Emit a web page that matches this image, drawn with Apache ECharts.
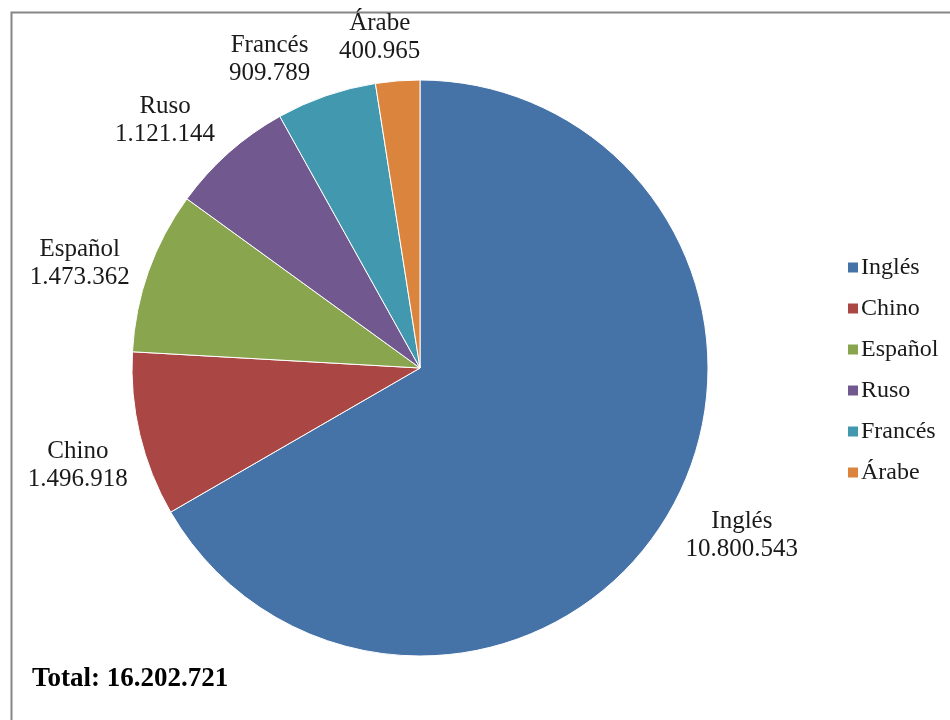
<!DOCTYPE html>
<html>
<head>
<meta charset="utf-8">
<script src="https://cdn.jsdelivr.net/npm/echarts@6/dist/echarts.min.js"></script>
<style>
html,body{margin:0;padding:0;background:#fff;}
#main{width:950px;height:720px;}
</style>
</head>
<body>
<div id="main"></div>
<script>
const categories = ['Inglés', 'Chino', 'Español', 'Ruso', 'Francés', 'Árabe'];
const values = [10800543, 1496918, 1473362, 1121144, 909789, 400965];
const valueLabels = ['10.800.543', '1.496.918', '1.473.362', '1.121.144', '909.789', '400.965'];
const totalLabel = 'Total: 16.202.721';
const colors = ['#4572A7', '#AA4643', '#89A54E', '#71588F', '#4198AF', '#DB843D'];

const FONT = '"Liberation Serif", "Times New Roman", serif';
const LABEL_SIZE = 25, LABEL_LH = 28;
const CX = 420, CY = 368, R = 288, GAP = 12;
const LABEL_ROT = -2.5 * Math.PI / 180;
const MIN_HGAP = 28, MIN_VGAP = 4;

const total = values.reduce((a, b) => a + b, 0);
const midAngles = [];
let acc = 0;
values.forEach(v => {
  const a0 = acc / total * 2 * Math.PI;
  acc += v;
  const a1 = acc / total * 2 * Math.PI;
  midAngles.push((a0 + a1) / 2);
});

// measure label boxes
const mctx = document.createElement('canvas').getContext('2d');
mctx.font = LABEL_SIZE + 'px ' + FONT;
const boxW = categories.map((c, i) => Math.max(mctx.measureText(c).width, mctx.measureText(valueLabels[i]).width));
const boxH = LABEL_LH * 2;

function placeAt(a, w, h) {
  const sx = Math.sin(a), sy = -Math.cos(a);
  const d = R + GAP + Math.abs(sx) * w / 2 + Math.abs(sy) * h / 2;
  return { x: CX + sx * d, y: CY + sy * d };
}
const labelAngles = midAngles.map(a => a + LABEL_ROT);
let pos = labelAngles.map((a, i) => placeAt(a, boxW[i], boxH));
function collide(i, j) {
  const ox = (boxW[i] + boxW[j]) / 2 + MIN_HGAP - Math.abs(pos[i].x - pos[j].x);
  const oy = boxH + MIN_VGAP - Math.abs(pos[i].y - pos[j].y);
  return ox > 0 && oy > 0;
}
for (let iter = 0; iter < 400; iter++) {
  let moved = false;
  for (let i = 0; i < pos.length - 1; i++) {
    const j = i + 1;
    if (collide(i, j)) {
      labelAngles[i] -= 0.25 * Math.PI / 180;
      pos[i] = placeAt(labelAngles[i], boxW[i], boxH);
      moved = true;
    }
  }
  if (!moved) break;
}

const chart = echarts.init(document.getElementById('main'));
chart.setOption({
  backgroundColor: '#ffffff',
  animation: false,
  color: colors,
  legend: {
    orient: 'vertical',
    left: 841,
    top: 250,
    icon: 'rect',
    itemWidth: 12,
    itemHeight: 12,
    itemGap: 16,
    textStyle: { fontFamily: FONT, fontSize: 24, color: '#1a1a1a', lineHeight: 25, padding: [0, 0, 0, -3] },
    data: categories
  },
  graphic: [
    {
      type: 'rect', left: 9, top: 10, z: -10,
      shape: { width: 990, height: 760 },
      style: { fill: 'none', stroke: '#868686', lineWidth: 2 }
    },
    {
      type: 'text', left: 32, top: 666,
      style: { text: totalLabel, font: 'bold 27px "Liberation Serif", "Times New Roman", serif', fill: '#000' }
    }
  ],
  series: [{
    type: 'pie',
    center: [CX, CY],
    radius: [0, R],
    startAngle: 90,
    clockwise: true,
    avoidLabelOverlap: false,
    itemStyle: { borderColor: '#ffffff', borderWidth: 1 },
    label: {
      show: true,
      position: 'outside',
      fontFamily: FONT,
      fontSize: LABEL_SIZE,
      lineHeight: LABEL_LH,
      color: '#1a1a1a',
      align: 'center',
      formatter: p => p.name + '\n' + valueLabels[p.dataIndex]
    },
    labelLine: { show: false },
    labelLayout: function (p) {
      const q = pos[p.dataIndex];
      return { x: q.x, y: q.y, align: 'center', verticalAlign: 'middle' };
    },
    emphasis: { disabled: true },
    data: categories.map((c, i) => ({ name: c, value: values[i] }))
  }]
});
</script>
</body>
</html>
